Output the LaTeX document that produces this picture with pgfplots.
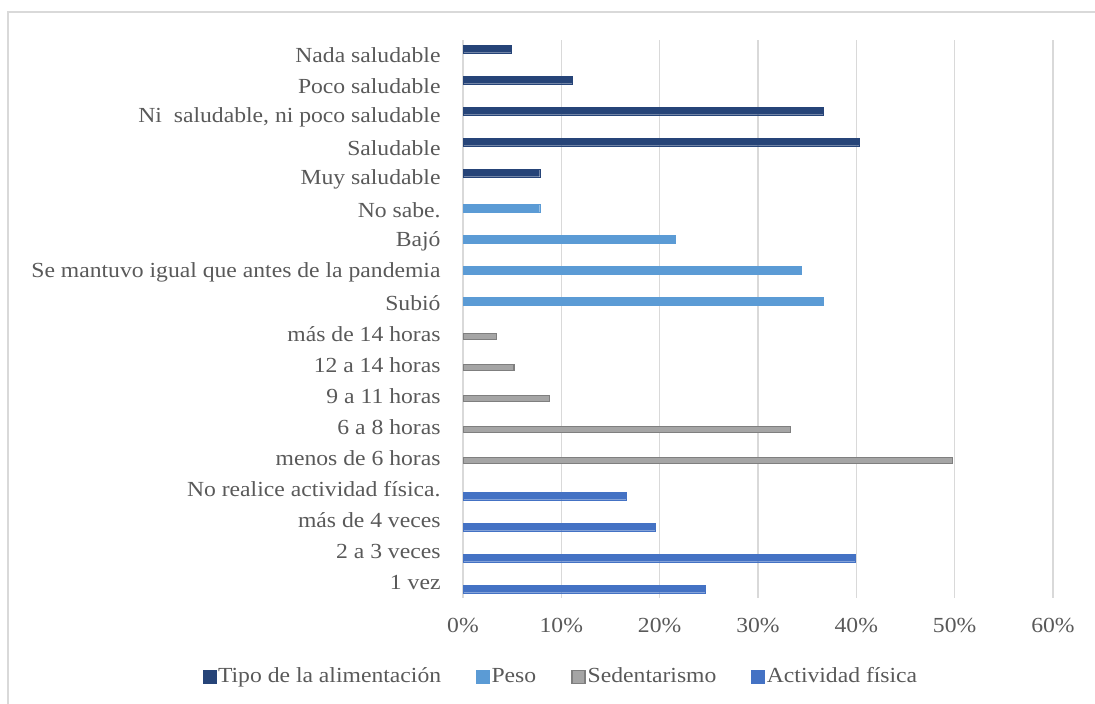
\documentclass[border=0pt]{standalone}
\usepackage{fontspec}
\setmainfont{Liberation Serif}[FakeStretch=1.1]
\usepackage{pgfplots}
\pgfplotsset{compat=1.18}
\definecolor{cTipo}{HTML}{264478}
\definecolor{cPeso}{HTML}{5B9BD5}
\definecolor{cSed}{HTML}{A5A5A5}
\definecolor{cSedB}{HTML}{7F7F7F}
\definecolor{cAct}{HTML}{4472C4}
\definecolor{txt}{HTML}{595959}
\definecolor{gridc}{HTML}{D9D9D9}
\begin{document}
\fontsize{21.5}{26}\selectfont
\begin{tikzpicture}[x=1pt,y=1pt]
\path[use as bounding box] (0,0) rectangle (1095,704);
\draw[color=gridc, line width=1.5pt] (8,0) -- (8,692) -- (1095,692);
\begin{axis}[
  at={(463pt,106pt)}, anchor=south west,
  scale only axis, width=590pt, height=558pt,
  xbar, bar width=7.5pt,
  xmin=0, xmax=60, ymin=-0.5, ymax=17.5,
  xtick={0,10,...,60},
  xticklabel={\pgfmathprintnumber{\tick}\%},
  ytick={0,...,17},
  yticklabels={1 vez, 2 a 3 veces, más de 4 veces, No realice actividad física., menos de 6 horas, 6 a 8 horas, 9 a 11 horas, 12 a 14 horas, más de 14 horas, Subió, Se mantuvo igual que antes de la pandemia, Bajó, No sabe., Muy saludable, Saludable, {Ni\ \ saludable, ni poco saludable}, Poco saludable, Nada saludable},
  /pgf/number format/assume math mode=true,
  axis line style={draw=none},
  tick style={draw=none},
  xmajorgrids, grid style={gridc, line width=1.5pt},
  ticklabel style={font=\rmfamily\fontsize{21.5}{26}\selectfont, text=txt},
  xticklabel style={inner sep=0pt, anchor=north, yshift=-20pt},
  yticklabel style={inner sep=0pt, anchor=east, xshift=-18pt},
  legend columns=4,
  legend style={at={(0.166,-0.1416)}, anchor=center, draw=none, fill=none,
    font=\rmfamily\fontsize{21.5}{26}\selectfont, text=txt,
    nodes={inner sep=2pt},
    /tikz/every even column/.append style={column sep=33pt}},
  legend image code/.code={\draw[#1] (0pt,-6.5pt) rectangle (13pt,6.5pt);},
]
\addplot[fill=cTipo, draw=cTipo, bar shift=6.5pt] coordinates {(4.9,17) (11.1,16) (36.6,15) (40.3,14) (7.8,13)};
\addlegendentry{Tipo de la alimentación}
\addplot[fill=cPeso, draw=cPeso, bar shift=2.2pt] coordinates {(7.8,12) (21.6,11) (34.4,10) (36.6,9)};
\addlegendentry{Peso}
\addplot[fill=cSed, draw=cSedB, line width=1.5pt, bar shift=-2.2pt, bar width=6pt] coordinates {(3.4,8) (5.2,7) (8.8,6) (33.3,5) (49.8,4)};
\addlegendentry{Sedentarismo}
\addplot[fill=cAct, draw=cAct, bar shift=-6.5pt] coordinates {(16.6,3) (19.5,2) (39.9,1) (24.6,0)};
\addlegendentry{Actividad física}
\end{axis}
\end{tikzpicture}
\end{document}
